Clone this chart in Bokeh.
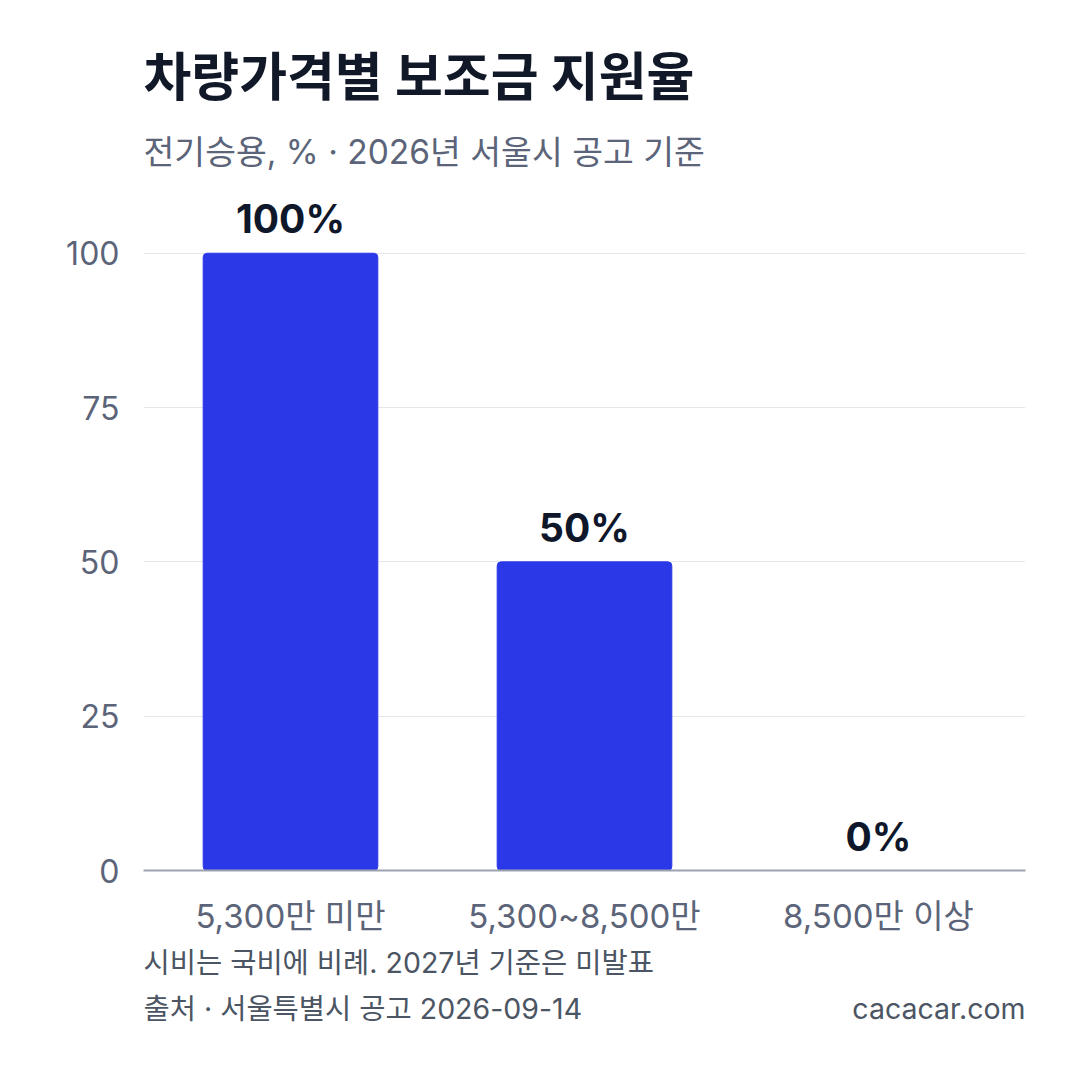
from bokeh.plotting import figure
from bokeh.models import ColumnDataSource, Range1d, FixedTicker
from bokeh.layouts import column
from bokeh.core.properties import value
from bokeh.embed import file_html
from bokeh.resources import INLINE

categories = ["5,300만 미만", "5,300~8,500만", "8,500만 이상"]
rates = [100, 50, 0]
rate_labels = ["100%", "50%", "0%"]
y_ticks = [0, 25, 50, 75, 100]

title_text = "차량가격별 보조금 지원율"
subtitle_text = "전기승용, % · 2026년 서울시 공고 기준"
note_text = "시비는 국비에 비례. 2027년 기준은 미발표"
source_text = "출처 · 서울특별시 공고 2026-09-14"
brand_text = "cacacar.com"

FONT = "Inter, Noto Sans CJK KR"
W = 1080
HEADER_H = 191
MAIN_H = 749
FOOTER_H = 140
FRAME_L, FRAME_R = 143, 1025


def blank_fig(h):
    f = figure(width=W, height=h, x_range=Range1d(FRAME_L, FRAME_R),
               y_range=Range1d(h, 0), output_backend="svg", toolbar_location=None,
               min_border_left=FRAME_L, min_border_right=W - FRAME_R,
               min_border_top=0, min_border_bottom=0)
    f.axis.visible = False
    f.grid.visible = False
    f.outline_line_color = None
    f.background_fill_color = "white"
    f.border_fill_color = "white"
    return f


def put(f, txt, x, y, size, color, bold=False, align="left"):
    f.text(x=[x], y=[y], text=[txt], text_font=value(FONT), text_font_size=size,
           text_color=color, text_font_style="bold" if bold else "normal",
           text_align=align, text_baseline="middle")


header = blank_fig(HEADER_H)
put(header, title_text, FRAME_L, 77, "52px", "#111827", bold=True)
put(header, subtitle_text, FRAME_L, 151, "33.5px", "#5B6478")

src = ColumnDataSource(dict(cat=categories, rate=rates, label=rate_labels))
p = figure(x_range=categories, y_range=Range1d(0, 110), width=W, height=MAIN_H,
           output_backend="svg", toolbar_location=None,
           min_border_left=FRAME_L, min_border_right=W - FRAME_R, min_border_top=0,
           min_border_bottom=MAIN_H - (870 - HEADER_H))
p.outline_line_color = None
p.background_fill_color = "white"
p.border_fill_color = "white"

p.vbar(x="cat", top="rate", width=0.594, source=src, color="#2B38E8",
       border_radius=4)
p.text(x="cat", y="rate", text="label", source=src, text_align="center",
       text_baseline="bottom", y_offset=-11, text_font=value(FONT),
       text_font_style="bold", text_font_size="39px", text_color="#0F172A")

p.xgrid.grid_line_color = None
p.ygrid.grid_line_color = "#E5E7EB"
p.ygrid.grid_line_width = 1
p.yaxis.ticker = FixedTicker(ticks=y_ticks)
p.yaxis.axis_line_color = None
p.yaxis.major_tick_line_color = None
p.yaxis.minor_tick_line_color = None
p.yaxis.major_label_standoff = 18
p.yaxis.major_label_text_font = FONT
p.yaxis.major_label_text_font_size = "32px"
p.yaxis.major_label_text_color = "#5B6478"

p.xaxis.axis_line_color = "#9CA3AF"
p.xaxis.axis_line_width = 2
p.xaxis.major_tick_line_color = None
p.xaxis.minor_tick_line_color = None
p.xaxis.major_label_standoff = 19
p.xaxis.major_label_text_font = FONT
p.xaxis.major_label_text_font_size = "33px"
p.xaxis.major_label_text_color = "#5B6478"

footer = blank_fig(FOOTER_H)
off = HEADER_H + MAIN_H
put(footer, note_text, FRAME_L, 962 - off, "28.5px", "#4B5563")
put(footer, source_text, FRAME_L, 1008 - off, "28.5px", "#4B5563")
put(footer, brand_text, FRAME_R, 1008 - off, "28.5px", "#4B5563", align="right")

layout = column(header, p, footer, spacing=0)
open("out.html", "w").write(file_html(layout, INLINE))
